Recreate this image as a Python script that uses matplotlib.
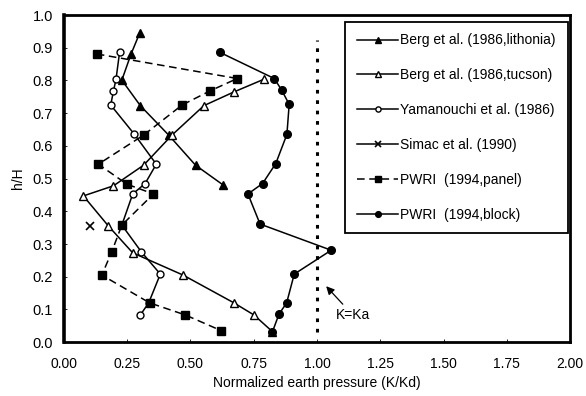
import matplotlib
matplotlib.use("Agg")
import matplotlib.pyplot as plt

plt.rcParams['font.family'] = ['Liberation Sans', 'DejaVu Sans']

# ---- data ----
berg_lith_x = [0.299, 0.265, 0.229, 0.302, 0.414, 0.520, 0.630]
berg_lith_y = [0.944, 0.880, 0.801, 0.723, 0.633, 0.541, 0.480]

berg_tuc_x = [0.791, 0.672, 0.553, 0.427, 0.315, 0.196, 0.077, 0.176, 0.272, 0.471, 0.672, 0.751, 0.824]
berg_tuc_y = [0.804, 0.765, 0.723, 0.633, 0.541, 0.478, 0.447, 0.355, 0.273, 0.205, 0.120, 0.083, 0.032]

yama_x = [0.220, 0.206, 0.196, 0.185, 0.278, 0.365, 0.321, 0.272, 0.229, 0.306, 0.381, 0.335, 0.302]
yama_y = [0.886, 0.804, 0.768, 0.725, 0.636, 0.544, 0.485, 0.453, 0.358, 0.276, 0.208, 0.120, 0.083]

simac_x = [0.103]
simac_y = [0.356]

pwri_panel_x = [0.130, 0.685, 0.577, 0.467, 0.315, 0.136, 0.249, 0.354, 0.229, 0.189, 0.150, 0.339, 0.480, 0.622]
pwri_panel_y = [0.881, 0.806, 0.768, 0.725, 0.633, 0.544, 0.483, 0.453, 0.358, 0.276, 0.205, 0.120, 0.083, 0.035]

pwri_block_x = [0.616, 0.831, 0.860, 0.890, 0.881, 0.837, 0.785, 0.727, 0.775, 1.056, 0.910, 0.880, 0.850, 0.824]
pwri_block_y = [0.886, 0.806, 0.771, 0.727, 0.635, 0.546, 0.485, 0.453, 0.361, 0.281, 0.208, 0.120, 0.086, 0.032]

ka_x = [1.0, 1.0]
ka_y = [0.03, 0.925]

labels = ["Berg et al. (1986,lithonia)", "Berg et al. (1986,tucson)",
          "Yamanouchi et al. (1986)", "Simac et al. (1990)",
          "PWRI  (1994,panel)", "PWRI  (1994,block)"]

x_ticks = [0.00, 0.25, 0.50, 0.75, 1.00, 1.25, 1.50, 1.75, 2.00]
y_ticks = [0.0, 0.1, 0.2, 0.3, 0.4, 0.5, 0.6, 0.7, 0.8, 0.9, 1.0]

# ---- figure ----
fig = plt.figure(figsize=(5.86, 3.96), dpi=100)
ax = fig.add_axes([0.109, 0.136, 0.864, 0.826])

k = dict(color='black', lw=1.1)
ax.plot(berg_lith_x, berg_lith_y, marker='^', ms=5.5, mfc='black', mec='black', label=labels[0], **k)
ax.plot(berg_tuc_x, berg_tuc_y, marker='^', ms=5.5, mfc='white', mec='black', label=labels[1], **k)
ax.plot(yama_x, yama_y, marker='o', ms=5, mfc='white', mec='black', label=labels[2], **k)
ax.plot(simac_x, simac_y, marker='x', ms=5.5, mew=1.2, label=labels[3], **k)
ax.plot(pwri_panel_x, pwri_panel_y, marker='s', ms=5.5, mfc='black', mec='black', ls=(0, (5, 3)),
        label=labels[4], **k)
ax.plot(pwri_block_x, pwri_block_y, marker='o', ms=5.5, mfc='black', mec='black', label=labels[5], **k)

ax.plot(ka_x, ka_y, color='black', lw=2.2, ls=(0, (1.2, 2.2)))

ax.annotate('K=Ka', xy=(1.036, 0.171), xytext=(1.075, 0.083), fontsize=10,
            ha='left', va='center',
            arrowprops=dict(arrowstyle='-|>', color='black', lw=0.9, mutation_scale=12,
                            shrinkA=1, shrinkB=0, relpos=(0.3, 1.0)))

ax.set_xlim(0, 2.0)
ax.set_ylim(0, 1.0)
ax.set_xticks(x_ticks)
ax.set_xticklabels(['%.2f' % v for v in x_ticks], fontsize=10)
ax.set_yticks(y_ticks)
ax.set_yticklabels(['%.1f' % v for v in y_ticks], fontsize=10.5)
ax.tick_params(direction='in', length=2, width=0.6)
ax.tick_params(axis='x', pad=11)
ax.tick_params(axis='y', pad=8)

ax.spines['left'].set_linewidth(2.6)
for s in ['top', 'right', 'bottom']:
    ax.spines[s].set_linewidth(2.0)

ax.set_xlabel('Normalized earth pressure (K/Kd)', fontsize=10, labelpad=3)
ax.set_ylabel('h/H', fontsize=10, labelpad=5)

leg = ax.legend(loc='upper left', bbox_to_anchor=(0.555, 0.98, 0.441, 0.0), mode='expand',
                fontsize=10, labelspacing=1.5, handlelength=3.0, handletextpad=0.15,
                borderpad=0.85, fancybox=False, framealpha=1, edgecolor='black',
                borderaxespad=0, markerscale=0.75)
leg.get_frame().set_linewidth(1.3)

fig.savefig('out.png', dpi=100)
